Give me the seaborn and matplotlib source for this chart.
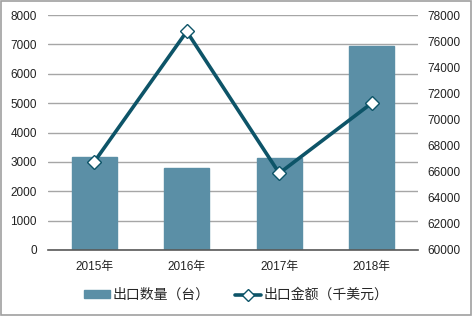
import matplotlib
matplotlib.use("Agg")
import matplotlib.pyplot as plt
import seaborn as sns
import numpy as np
import pandas as pd
from matplotlib.patches import Rectangle
from matplotlib.lines import Line2D
from matplotlib.patches import Patch

years = ["2015年", "2016年", "2017年", "2018年"]
quantity = [3170, 2780, 3140, 6930]
amount = [66750, 76740, 65880, 71250]
left_ticks = [0, 1000, 2000, 3000, 4000, 5000, 6000, 7000, 8000]
right_ticks = [60000, 62000, 64000, 66000, 68000, 70000, 72000, 74000, 76000, 78000]
label_qty = "出口数量（台）"
label_amt = "出口金额（千美元）"

sns.set_theme(style="white")
plt.rcParams['font.family'] = ['Liberation Sans', 'Noto Sans CJK SC', 'DejaVu Sans']

bar_color = "#5B8FA6"
line_color = "#0D5468"

fig = plt.figure(figsize=(4.72, 3.16), dpi=100)
ax = fig.add_axes([48/472, 1-250/316, (418-48)/472, (250-15)/316])

df = pd.DataFrame({"year": years, "qty": quantity, "amt": amount})
sns.barplot(data=df, x="year", y="qty", ax=ax, color=bar_color, width=0.49,
            saturation=1, edgecolor=bar_color, zorder=2)
ax.set_xlim(-0.5, 3.5)
ax.set_ylim(0, 8000)
ax.set_yticks(left_ticks)
ax.yaxis.grid(True, color="#a6a6a6", linewidth=1.0, zorder=0)
ax.set_axisbelow(True)
for s in ["top", "right", "left"]:
    ax.spines[s].set_visible(False)
ax.spines["bottom"].set_color("#595959")
ax.spines["bottom"].set_linewidth(1.2)
ax.set_xlabel("")
ax.set_ylabel("")
ax.tick_params(axis="both", length=0, labelsize=8.5, colors="#222222")
ax.tick_params(axis="y", pad=8)
ax.tick_params(axis="x", pad=8)

ax2 = ax.twinx()
sns.lineplot(x=np.arange(len(years)), y=amount, ax=ax2, color=line_color,
             linewidth=2.6, marker="D", markersize=7, markerfacecolor="white",
             markeredgecolor=line_color, markeredgewidth=1.0, zorder=3)
ax2.set_ylim(60000, 78000)
ax2.set_yticks(right_ticks)
ax2.set_xlim(-0.5, 3.5)
ax2.grid(False)
for s in ["top", "right", "left", "bottom"]:
    ax2.spines[s].set_visible(False)
ax2.tick_params(axis="y", length=0, labelsize=8.5, colors="#222222", pad=7)
ax2.set_ylabel("")

handles = [Patch(facecolor=bar_color, edgecolor=bar_color),
           Line2D([0], [0], color=line_color, linewidth=2.6, marker="D", markersize=6,
                  markerfacecolor="white", markeredgecolor=line_color)]
fig.legend(handles, [label_qty, label_amt], loc="center", bbox_to_anchor=(0.5, 1-295/316),
           ncol=2, frameon=False, fontsize=10, handlelength=1.9, handleheight=0.5,
           columnspacing=1.8, handletextpad=0.15)

fig.patches.append(Rectangle((0.002, 0.003), 0.995, 0.993, transform=fig.transFigure,
                             fill=False, edgecolor="#a0a0a0", linewidth=1.2))

fig.savefig("out.png", dpi=100)
